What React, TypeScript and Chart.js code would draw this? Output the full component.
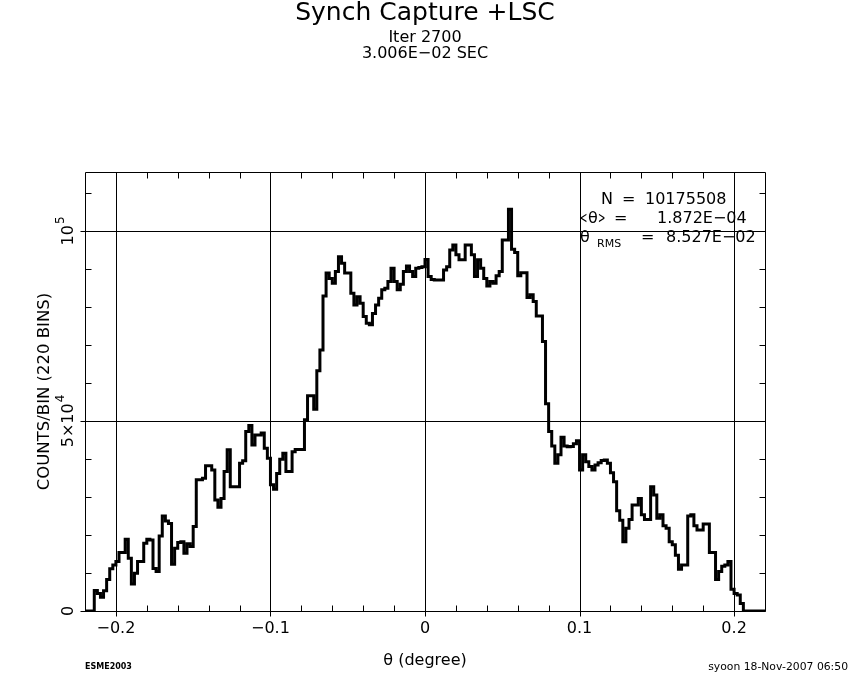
import React, { useEffect, useRef } from "react";
import { Chart, registerables } from "chart.js";

Chart.register(...registerables);

// ---- text ----
const TITLE = "Synch Capture +LSC";
const SUBTITLE_LINES = ["Iter 2700", "3.006E\u221202 SEC"];
const X_TITLE = "\u03b8 (degree)";
const Y_TITLE = "COUNTS/BIN (220 BINS)";
const FOOT_LEFT = "ESME2003";
const FOOT_RIGHT = "syoon 18-Nov-2007 06:50";
const STAT_N = ["N", "=", "10175508"];
const STAT_MEAN = ["<", "\u03b8", ">", "=", "1.872E\u221204"];
const STAT_RMS = ["\u03b8", "RMS", "=", "8.527E\u221202"];

// ---- histogram definition ----
const X_MIN = -0.22;
const X_MAX = 0.22;
const BIN_WIDTH = 0.002;
const Y_MIN = 0;
const Y_MAX = 115500;

// counts per bin (220 bins, from X_MIN upward)
const binCounts = [
  0, 0, 0, 5400, 4600, 3600, 5300, 8300, 11100, 12100, 13000, 15400, 15400, 18900, 13900, 7100, 9900, 13000, 13000, 17800,
  18900, 18700, 11200, 10400, 19700, 25000, 23700, 23000, 12300, 16500, 18000, 18200, 15200, 17700, 17000, 22200,
  34500, 34500, 34900, 38200, 38200, 37100, 29200, 27300, 29600, 36700, 42400, 32700, 32700, 32700, 38900, 39500,
  47200, 48800, 43700, 46300, 46300, 46800, 42800, 40200, 33200, 32000, 36200, 39900, 41500, 36700, 36700, 41900,
  42500, 42500, 42500,
  50300, 56600, 56600, 53100, 63200, 68700, 82900, 88900, 87500, 86200, 89300, 93200, 91500, 88900, 88900, 83600,
  80500, 82700, 81000, 77500, 75700, 75300, 78300, 80500, 82300, 84500, 84900, 86700, 90200, 86700, 84500, 86000,
  89300, 90800, 89300,
  88000, 90200, 90400, 90600, 92500, 88000, 87200, 87100, 87100, 87100, 89700, 90600, 95000, 96300, 93700, 92400,
  92400, 96300, 96300, 93700, 88000, 92400, 90200, 87500, 85500, 86700, 86200, 88200, 89300, 97600, 97600, 105700,
  95200, 94300, 88200,
  89000, 89000, 82500, 83200, 81400, 77600, 77600, 70900, 54500, 47200, 43400, 38900, 41100, 45700, 43400, 43200,
  43300, 44000, 44800,
  37100, 41100, 39300, 38000, 37100, 38400, 39000, 39600, 39700, 38900, 36400, 34000, 26400, 23900, 18200, 21800,
  24100, 27900, 27900, 29600, 25300, 24100, 24100, 32700, 30500, 24400, 25300, 22400, 21800, 18200, 17400, 14700,
  11000, 12100, 12100,
  25000, 25300, 22400, 21300, 21300, 22900, 22900, 15400, 15400, 8300, 10400, 11800, 12100, 13000, 5700, 4600, 4200, 2000,
  0, 0, 0, 0, 0, 0, 0,
];

// ---- ticks ----
const xMajorTicks = [-0.2, -0.1, 0, 0.1, 0.2];
const xTickLabels = ["\u22120.2", "\u22120.1", "0", "0.1", "0.2"];
const X_MINOR_STEP = 0.02;
const yMajorTicks = [0, 50000, 100000];
// [base, exponent] pairs for the y tick labels
const yTickLabels = [["0", ""], ["5\u00d710", "4"], ["10", "5"]];
const Y_MINOR_STEP = 10000;

const FONT = "'DejaVu Sans', sans-serif";

const decorPlugin = {
  id: "decor",
  afterDraw(chart: any) {
    const { ctx, chartArea: a } = chart;
    const xs = chart.scales.x;
    const ys = chart.scales.y;
    const L = Math.round(a.left) + 0.5;
    const R = Math.round(a.right) + 0.5;
    const T = Math.round(a.top) + 0.5;
    const B = Math.round(a.bottom) + 0.5;
    ctx.save();
    ctx.strokeStyle = "#000";
    ctx.fillStyle = "#000";
    ctx.lineWidth = 1;

    // frame
    ctx.beginPath();
    ctx.rect(L, T, R - L, B - T);
    ctx.stroke();

    // major grid lines (extend a bit outside on bottom/left)
    ctx.beginPath();
    xMajorTicks.forEach((v) => {
      const px = Math.round(xs.getPixelForValue(v)) + 0.5;
      ctx.moveTo(px, T);
      ctx.lineTo(px, B + 5);
    });
    yMajorTicks.forEach((v) => {
      const py = Math.round(ys.getPixelForValue(v)) + 0.5;
      ctx.moveTo(L - 5, py);
      ctx.lineTo(R, py);
    });
    ctx.stroke();

    // minor ticks
    ctx.beginPath();
    const nx = Math.round((X_MAX - X_MIN) / X_MINOR_STEP);
    for (let i = 1; i < nx; i++) {
      const v = X_MIN + i * X_MINOR_STEP;
      if (xMajorTicks.some((m) => Math.abs(m - v) < 1e-9)) continue;
      const px = Math.round(xs.getPixelForValue(v)) + 0.5;
      ctx.moveTo(px, B);
      ctx.lineTo(px, B - 6);
      ctx.moveTo(px, T);
      ctx.lineTo(px, T + 6);
    }
    for (let v = Y_MINOR_STEP; v < Y_MAX; v += Y_MINOR_STEP) {
      if (yMajorTicks.some((m) => Math.abs(m - v) < 1e-6)) continue;
      const py = Math.round(ys.getPixelForValue(v)) + 0.5;
      ctx.moveTo(L, py);
      ctx.lineTo(L + 6, py);
      ctx.moveTo(R, py);
      ctx.lineTo(R - 6, py);
    }
    ctx.stroke();

    // x tick labels
    ctx.font = `16px ${FONT}`;
    ctx.textAlign = "center";
    ctx.textBaseline = "middle";
    xMajorTicks.forEach((v, i) => {
      ctx.fillText(xTickLabels[i], xs.getPixelForValue(v), 629);
    });

    // y tick labels (rotated, with raised exponent)
    yMajorTicks.forEach((v, i) => {
      const py = ys.getPixelForValue(v);
      const [base, exp] = yTickLabels[i];
      ctx.save();
      ctx.translate(69, py);
      ctx.rotate(-Math.PI / 2);
      ctx.font = `16px ${FONT}`;
      const wb = ctx.measureText(base).width;
      ctx.font = `12px ${FONT}`;
      const we = exp ? ctx.measureText(exp).width + 1 : 0;
      const start = -(wb + we) / 2;
      ctx.textAlign = "left";
      ctx.font = `16px ${FONT}`;
      ctx.fillText(base, start, 0);
      if (exp) {
        ctx.font = `12px ${FONT}`;
        ctx.fillText(exp, start + wb + 1, -8);
      }
      ctx.restore();
    });

    // axis titles
    ctx.textAlign = "center";
    ctx.font = `16px ${FONT}`;
    ctx.fillText(X_TITLE, (a.left + a.right) / 2, 661);
    ctx.save();
    ctx.translate(45, (a.top + a.bottom) / 2);
    ctx.rotate(-Math.PI / 2);
    ctx.font = `16.5px ${FONT}`;
    ctx.fillText(Y_TITLE, 0, 0);
    ctx.restore();

    // titles
    const cx = (a.left + a.right) / 2;
    ctx.font = `25px ${FONT}`;
    ctx.fillText(TITLE, cx, 13);
    ctx.font = `16px ${FONT}`;
    ctx.fillText(SUBTITLE_LINES[0], cx, 38);
    ctx.fillText(SUBTITLE_LINES[1], cx, 54);

    // statistics box
    ctx.textAlign = "left";
    ctx.font = `16px ${FONT}`;
    ctx.fillText(STAT_N[0], 601, 200);
    ctx.fillText(STAT_N[1], 622, 200);
    ctx.fillText(STAT_N[2], 645, 200);
    // "<θ>" with narrow angle brackets
    ctx.save();
    ctx.translate(580, 219);
    ctx.scale(0.55, 1);
    ctx.fillText(STAT_MEAN[0], 0, 0);
    ctx.restore();
    ctx.fillText(STAT_MEAN[1], 588, 219);
    ctx.save();
    ctx.translate(598, 219);
    ctx.scale(0.55, 1);
    ctx.fillText(STAT_MEAN[2], 0, 0);
    ctx.restore();
    ctx.fillText(STAT_MEAN[3], 614, 219);
    ctx.fillText(STAT_MEAN[4], 657, 219);
    ctx.fillText(STAT_RMS[0], 580, 238);
    ctx.font = `11px ${FONT}`;
    ctx.fillText(STAT_RMS[1], 597, 244);
    ctx.font = `16px ${FONT}`;
    ctx.fillText(STAT_RMS[2], 641, 238);
    ctx.fillText(STAT_RMS[3], 666, 238);

    // footers
    ctx.font = `bold 8px ${FONT}`;
    ctx.fillText(FOOT_LEFT, 85, 667);
    ctx.font = `10.8px ${FONT}`;
    ctx.textAlign = "right";
    ctx.fillText(FOOT_RIGHT, 848, 667);

    ctx.restore();
  },
};

export default function App() {
  const canvasRef = useRef<HTMLCanvasElement | null>(null);

  useEffect(() => {
    document.body.style.margin = "0";
    const canvas = canvasRef.current;
    if (!canvas) return;
    const points = binCounts.map((c, i) => ({ x: X_MIN + i * BIN_WIDTH, y: c }));
    points.push({ x: X_MAX, y: binCounts[binCounts.length - 1] });

    const chart = new Chart(canvas, {
      type: "line",
      data: {
        datasets: [
          {
            data: points,
            borderColor: "#000",
            borderWidth: 3,
            pointRadius: 0,
            fill: false,
            stepped: true,
            tension: 0,
            borderJoinStyle: "miter",
            borderCapStyle: "butt",
          } as any,
        ],
      },
      options: {
        responsive: false,
        animation: false,
        devicePixelRatio: 1,
        parsing: false as any,
        layout: { padding: { left: 85, right: 85, top: 172, bottom: 69 } },
        plugins: {
          legend: { display: false },
          tooltip: { enabled: false },
        },
        scales: {
          x: { type: "linear", min: X_MIN, max: X_MAX, display: false },
          y: { type: "linear", min: Y_MIN, max: Y_MAX, display: false },
        },
      },
      plugins: [decorPlugin],
    });
    return () => chart.destroy();
  }, []);

  return (
    <div style={{ width: 850, height: 680, background: "#fff" }}>
      <canvas ref={canvasRef} width={850} height={680} style={{ display: "block" }} />
    </div>
  );
}
